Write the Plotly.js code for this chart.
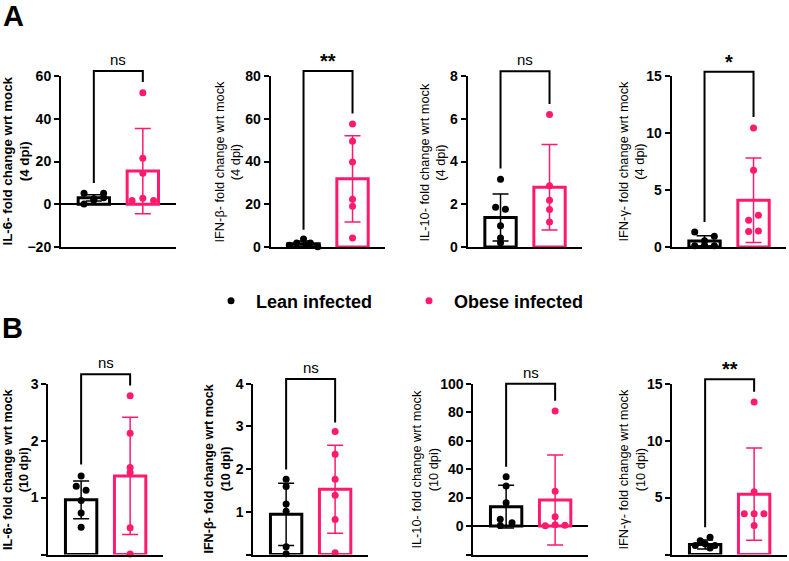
<!DOCTYPE html>
<html>
<head>
<meta charset="utf-8">
<script src="https://cdn.plot.ly/plotly-3.0.1.min.js"></script>
<style>html,body{margin:0;padding:0;background:#fff;}#chart{width:789px;height:561px;}</style>
</head>
<body>
<div id="chart"></div>
<script>
// ---------------- DATA ----------------
const cytokines = ['IL-6', 'IFN-β', 'IL-10', 'IFN-γ', 'IL-6', 'IFN-β', 'IL-10', 'IFN-γ'];
const timepoints = ['4 dpi', '4 dpi', '4 dpi', '4 dpi', '10 dpi', '10 dpi', '10 dpi', '10 dpi'];
const groups = ['Lean infected', 'Obese infected'];

const leanMean  = [3.0, 1.5, 1.375, 0.53, 0.96, 0.94, 13.6, 0.88];
const leanSD    = [1.5, 1.3, 1.1, 0.45, 0.33, 0.73, 15.0, 0.40];
const obeseMean = [15.5, 31.9, 2.8, 4.1, 1.38, 1.53, 18.3, 5.3];
const obeseSD   = [19.9, 20.2, 2.0, 3.7, 1.03, 1.03, 31.6, 4.05];

const leanPoints = [
  [5.1, 5.1, 0.1, 3.0, 2.0, 2.6],
  [0.8, 1.9, 3.7, 1.9, 0.1, 0.8],
  [3.17, 1.86, 1.77, 1.0, 0.42, 0.2],
  [1.32, 0.94, 0.12, 0.55, 0.1, 0.15],
  [1.38, 1.2, 1.13, 0.95, 0.73, 0.48],
  [1.76, 1.59, 1.18, 1.01, 0.18, 0.02],
  [34.7, 28.1, 16.4, 4.7, 0.3, 2.3],
  [1.2, 1.52, 0.79, 0.94, 0.79, 0.56]
];
const leanJitter = [
  [-0.2, 0.2, -0.2, 0.2, 0, 0],
  [-0.29, -0.14, 0, 0.14, 0.29, 0.07],
  [0, -0.1, 0.1, 0, 0, 0],
  [-0.2, 0.2, -0.2, 0, 0.2, 0],
  [0, -0.1, 0.1, 0, 0, 0],
  [0, 0, 0, 0, 0, 0],
  [0, 0, 0, -0.12, -0.12, 0.12],
  [-0.1, 0.1, -0.2, 0, 0.2, 0.1]
];
const obesePoints = [
  [52.2, 21.5, 14.5, 2.8, 1.8, 1.8],
  [57.5, 49.5, 39.8, 22.3, 19.1, 4.2],
  [6.2, 2.86, 2.19, 1.75, 1.17],
  [10.44, 6.73, 2.34, 2.78, 1.37, 1.40],
  [2.79, 2.13, 1.53, 1.44, 0.47, 0.01],
  [2.88, 2.35, 1.76, 1.39, 0.82, 0.04],
  [80.8, 24.4, 6.6, 0.2, 0.9, 0.5],
  [13.4, 5.5, 3.57, 3.57, 3.57, 2.55]
];
const obeseJitter = [
  [0, 0, 0, 0, -0.22, 0.22],
  [0, 0, 0, 0, 0, 0],
  [0, 0, 0, 0, 0],
  [0, 0, -0.1, 0.1, -0.1, 0.1],
  [0, 0, 0, 0, 0, 0],
  [0, 0, 0, 0, 0, 0],
  [0, 0, 0, -0.2, 0, 0.2],
  [0, 0, -0.2, 0, 0.2, 0]
];
const sigLabels = ['ns', '**', 'ns', '*', 'ns', 'ns', 'ns', '**'];
const bracketLeftEnd  = [9.9, 8.1, 3.67, 2.19, 1.58, 1.99, 41.7, 2.4];
const bracketRightEnd = [57.2, 62.5, 6.69, 11.4, 2.97, 3.09, 88, 14.3];
const yRanges = [[-20, 60], [0, 80], [0, 8], [0, 15], [0, 3], [0, 4], [-20, 100], [0, 15]];
const yDticks = [20, 20, 2, 5, 1, 1, 20, 5];

// ---------------- LAYOUT GEOMETRY (px) ----------------
const W = 789, H = 561;
const axLeft = [61, 270.7, 467.7, 671.7, 48.3, 253.3, 473.3, 672.3];
const rowTop = [76, 383.7], rowBottom = [247, 554.5];
const xRange = [-0.67, 1.67];
const plotW = 2.34 * 49;
const titleX = [16, 228, 433, 632, 16, 217.5, 425.5, 632.5];
const titleBold = [true, false, false, false, true, true, false, false];
const titleSize = [13.3, 12.8, 12.8, 12.8, 12.7, 12.6, 12.8, 12.8];
const bracketTopPx = [71, 71, 71.3, 71.7, 374.3, 379, 383.7, 379.3];
const BLACK = '#000000', PINK = '#FF1A6E';
const FONT = 'Liberation Sans, Arial, sans-serif';

const traces = [], shapes = [], annotations = [];
const layout = {
  width: W, height: H, margin: {l: 0, r: 0, t: 0, b: 0},
  paper_bgcolor: '#fff', plot_bgcolor: 'rgba(0,0,0,0)',
  showlegend: true, barmode: 'overlay',
  legend: {orientation: 'h', x: 206 / W, y: 1 - 301 / H, xanchor: 'left', yanchor: 'middle',
           font: {family: FONT, size: 18, weight: 'bold', color: '#000'}, itemwidth: 40,
           bgcolor: 'rgba(0,0,0,0)', entrywidth: 143, entrywidthmode: 'pixels'},
  font: {family: FONT, color: '#000'}
};

function paperX(i, xv) { return (axLeft[i] + (xv - xRange[0]) / (xRange[1] - xRange[0]) * plotW) / W; }
function rowOf(i) { return i < 4 ? 0 : 1; }
function paperY(i, yv) {
  const r = rowOf(i), yr = yRanges[i];
  const px = rowBottom[r] - (yv - yr[0]) / (yr[1] - yr[0]) * (rowBottom[r] - rowTop[r]);
  return 1 - px / H;
}
function pxToPaperY(px) { return 1 - px / H; }

for (let i = 0; i < 8; i++) {
  const n = i + 1, xa = 'x' + (n === 1 ? '' : n), ya = 'y' + (n === 1 ? '' : n);
  const r = rowOf(i);
  layout['xaxis' + (n === 1 ? '' : n)] = {
    domain: [axLeft[i] / W, (axLeft[i] + plotW) / W], range: xRange, anchor: ya,
    showline: true, linecolor: BLACK, linewidth: 2, ticks: '', showticklabels: false,
    showgrid: false, zeroline: false, fixedrange: true
  };
  layout['yaxis' + (n === 1 ? '' : n)] = {
    domain: [1 - rowBottom[r] / H, 1 - rowTop[r] / H], range: yRanges[i], anchor: xa,
    showline: true, linecolor: BLACK, linewidth: 2, ticks: 'outside', ticklen: 5, tickwidth: 2,
    tickcolor: BLACK, dtick: yDticks[i], tick0: 0, showgrid: false,
    zeroline: yRanges[i][0] < 0, zerolinecolor: BLACK, zerolinewidth: 2,
    tickfont: {family: FONT, size: 14, weight: 'bold', color: '#000'}, fixedrange: true
  };
  // bars
  traces.push({type: 'bar', x: [0], y: [leanMean[i]], xaxis: xa, yaxis: ya, width: 0.64,
    marker: {color: 'rgba(255,255,255,1)', line: {color: BLACK, width: 3}}, showlegend: false,
    error_y: {type: 'data', array: [leanSD[i]], visible: true, color: BLACK, thickness: 1.5, width: 8},
    hoverinfo: 'skip'});
  traces.push({type: 'bar', x: [1], y: [obeseMean[i]], xaxis: xa, yaxis: ya, width: 0.64,
    marker: {color: 'rgba(255,255,255,1)', line: {color: PINK, width: 3}}, showlegend: false,
    error_y: {type: 'data', array: [obeseSD[i]], visible: true, color: PINK, thickness: 1.5, width: 8},
    hoverinfo: 'skip'});
  // points
  traces.push({type: 'scatter', mode: 'markers', name: groups[0], legendgroup: 'lean',
    x: leanPoints[i].map((v, k) => 0 + leanJitter[i][k]), y: leanPoints[i], xaxis: xa, yaxis: ya,
    marker: {color: BLACK, size: 7}, showlegend: i === 0, cliponaxis: false});
  traces.push({type: 'scatter', mode: 'markers', name: groups[1], legendgroup: 'obese',
    x: obesePoints[i].map((v, k) => 1 + obeseJitter[i][k]), y: obesePoints[i], xaxis: xa, yaxis: ya,
    marker: {color: PINK, size: 7}, showlegend: i === 0, cliponaxis: false});
  // bracket
  const xl = paperX(i, 0), xr = paperX(i, 1);
  const yt = pxToPaperY(bracketTopPx[i]);
  shapes.push({type: 'path', xref: 'paper', yref: 'paper',
    path: `M ${xl} ${paperY(i, bracketLeftEnd[i])} L ${xl} ${yt} L ${xr} ${yt} L ${xr} ${paperY(i, bracketRightEnd[i])}`,
    line: {color: BLACK, width: 2}});
  const isStar = sigLabels[i].indexOf('*') >= 0;
  annotations.push({xref: 'paper', yref: 'paper', x: (xl + xr) / 2, y: yt, xanchor: 'center', yanchor: 'bottom',
    yshift: isStar ? -3 : 1, showarrow: false, text: sigLabels[i],
    font: {family: FONT, size: isStar ? 20 : 15, weight: isStar ? 'bold' : 'normal', color: '#000'}});
  // y title
  annotations.push({xref: 'paper', yref: 'paper', x: titleX[i] / W, y: 1 - (rowTop[r] + rowBottom[r]) / 2 / H,
    xanchor: 'center', yanchor: 'middle', textangle: -90, showarrow: false,
    text: cytokines[i] + '- fold change wrt mock<br>(' + timepoints[i] + ')',
    font: {family: FONT, size: titleSize[i], weight: titleBold[i] ? 'bold' : 'normal', color: '#000'}});
}
// panel letters
annotations.push({xref: 'paper', yref: 'paper', x: 13 / W, y: 1 - 16 / H, showarrow: false, text: 'A',
  xanchor: 'center', yanchor: 'middle', font: {family: FONT, size: 29, weight: 'bold', color: '#000'}});
annotations.push({xref: 'paper', yref: 'paper', x: 12 / W, y: 1 - 328 / H, showarrow: false, text: 'B',
  xanchor: 'center', yanchor: 'middle', font: {family: FONT, size: 29, weight: 'bold', color: '#000'}});

layout.shapes = shapes;
layout.annotations = annotations;
Plotly.newPlot('chart', traces, layout, {staticPlot: true});
</script>
</body>
</html>
